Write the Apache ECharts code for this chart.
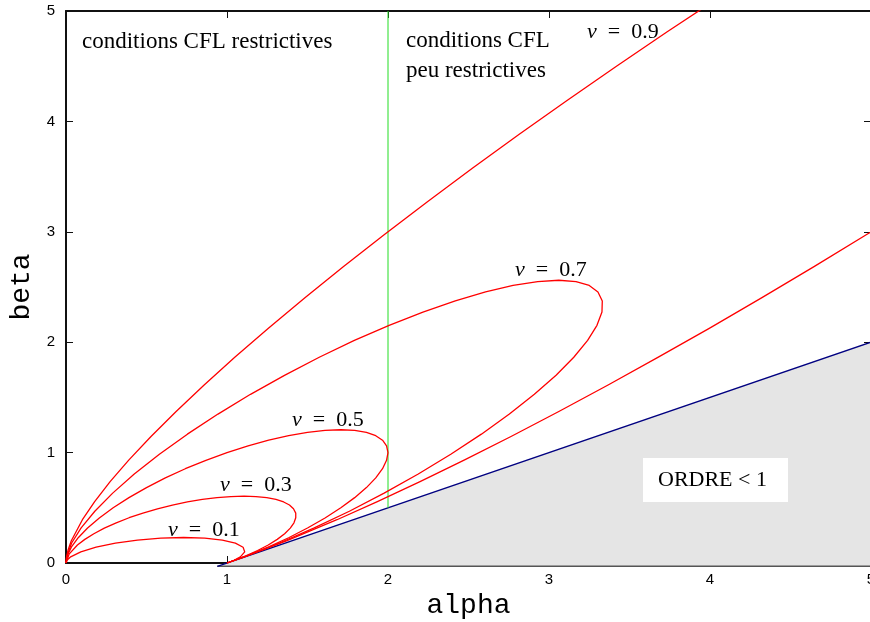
<!DOCTYPE html>
<html><head><meta charset="utf-8">
<script src="https://cdn.jsdelivr.net/npm/echarts@6/dist/echarts.min.js"></script>
<style>html,body{margin:0;padding:0;background:#fff}#c{width:870px;height:622px}</style>
</head><body><div id="c"></div>
<script>
// axis ranges / ticks
const xTicks = [0, 1, 2, 3, 4, 5];
const yTicks = [0, 1, 2, 3, 4, 5];

// iso-nu curves: [alpha, beta]
const curveNu01 = [[0,0],[0.006,0.025],[0.029,0.056],[0.092,0.101],[0.187,0.143],[0.307,0.180],[0.444,0.208],[0.589,0.225],[0.731,0.231],[0.862,0.225],[0.971,0.208],[1.052,0.180],[1.100,0.143],[1.110,0.101],[1.083,0.056],[1.044,0.025],[1,0]];
const curveNu03 = [[0,0],[0.019,0.080],[0.071,0.163],[0.117,0.214],[0.173,0.265],[0.238,0.316],[0.312,0.364],[0.392,0.410],[0.478,0.452],[0.568,0.491],[0.661,0.525],[0.754,0.553],[0.847,0.576],[0.938,0.592],[1.024,0.602],[1.106,0.606],[1.180,0.602],[1.247,0.592],[1.304,0.576],[1.352,0.553],[1.388,0.525],[1.413,0.491],[1.427,0.452],[1.427,0.410],[1.416,0.364],[1.393,0.316],[1.358,0.265],[1.312,0.214],[1.256,0.163],[1.190,0.113],[1.117,0.065],[1,0]];
const curveNu05 = [[0,0],[0.009,0.070],[0.034,0.146],[0.076,0.229],[0.134,0.317],[0.207,0.408],[0.293,0.5],[0.391,0.592],[0.5,0.683],[0.617,0.771],[0.741,0.854],[0.869,0.930],[1,1],[1.131,1.061],[1.259,1.112],[1.383,1.153],[1.5,1.183],[1.609,1.201],[1.707,1.207],[1.793,1.201],[1.866,1.183],[1.924,1.153],[1.966,1.112],[1.991,1.061],[2,1],[1.991,0.930],[1.966,0.854],[1.924,0.771],[1.866,0.683],[1.793,0.592],[1.707,0.5],[1.609,0.408],[1.5,0.317],[1.383,0.229],[1.259,0.146],[1.131,0.070],[1,0]];
const curveNu07 = [[0,0],[0.005,0.060],[0.035,0.181],[0.094,0.318],[0.179,0.469],[0.290,0.633],[0.424,0.806],[0.580,0.985],[0.754,1.167],[0.944,1.349],[1.146,1.528],[1.357,1.700],[1.573,1.864],[1.791,2.016],[2.007,2.153],[2.217,2.273],[2.418,2.374],[2.606,2.455],[2.777,2.514],[2.930,2.549],[3.061,2.561],[3.168,2.549],[3.250,2.514],[3.304,2.455],[3.331,2.374],[3.329,2.273],[3.298,2.153],[3.240,2.016],[3.154,1.864],[3.044,1.700],[2.909,1.528],[2.754,1.349],[2.580,1.167],[2.390,0.985],[2.188,0.806],[1.976,0.633],[1.760,0.469],[1.542,0.318],[1.326,0.181],[1.116,0.060],[1,0]];
const curveNu09Upper = [[0,0],[0.002,0.043],[0.013,0.118],[0.033,0.201],[0.102,0.392],[0.178,0.556],[0.274,0.737],[0.391,0.934],[0.528,1.146],[0.684,1.372],[0.858,1.612],[1.050,1.865],[1.259,2.128],[1.484,2.402],[1.724,2.685],[1.978,2.975],[2.245,3.272],[2.524,3.575],[2.813,3.881],[3.112,4.190],[3.419,4.5],[3.732,4.810],[4.267,5.324]];
const curveNu09Lower = [[1,0],[1.083,0.043],[1.223,0.118],[1.369,0.201],[1.683,0.392],[1.934,0.556],[2.199,0.737],[2.476,0.934],[2.764,1.146],[3.061,1.372],[3.367,1.612],[3.679,1.865],[3.998,2.128],[4.320,2.402],[4.646,2.685],[4.973,2.975],[5.300,3.272]];

// ORDRE < 1 boundary and region
const orderLine = [[0.94,-0.03],[5,2]];
const orderRegionAlpha = [0.94, 5, 5];
const orderRegionBeta = [-0.03, 2, -0.03];

// CFL separation line alpha = 2
const cflLine = [[2,0.5],[2,5]];

const nuLabels = ['0.1','0.3','0.5','0.7','0.9'];

const chart = echarts.init(document.getElementById('c'), null, {renderer:'canvas'});

const axisCommon = {
  type:'value', min:0, max:5, interval:1,
  axisLine:{show:true, onZero:false, lineStyle:{color:'#111', width:2}},
  axisTick:{show:true, inside:true, length:7, lineStyle:{color:'#111', width:1}},
  splitLine:{show:false}
};

function redSeries(data){
  return {type:'line', data:data, showSymbol:false, smooth:false, z:5,
    lineStyle:{color:'#ff0000', width:1.3, join:'round'}, silent:true};
}

const labelFont = '"Liberation Serif", "Times New Roman", serif';

function nuText(txt, left, baseline){
  return {type:'text', left:left, top:baseline-18, z:100,
    style:{text:'{n|ν}  =  ' + txt, font:'22px ' + labelFont, fill:'#000',
      rich:{n:{fontStyle:'italic', fontSize:22, fontFamily:labelFont, fill:'#000'}}}};
}

const option = {
  animation:false,
  backgroundColor:'#fff',
  grid:{left:66, top:11, width:805, height:552, containLabel:false, outerBoundsMode:'none'},
  xAxis:[
    Object.assign({}, axisCommon, {position:'bottom',
      axisLabel:{show:true, margin:9, fontFamily:'"Liberation Sans", Arial, sans-serif', fontSize:15, color:'#000',
        formatter:(v)=> xTicks.includes(v) ? String(v) : ''},
      name:'alpha', nameLocation:'middle', nameGap:27,
      nameTextStyle:{fontFamily:'"Liberation Mono", "Courier New", monospace', fontSize:28, color:'#000'}}),
    Object.assign({}, axisCommon, {position:'top', axisLabel:{show:false}})
  ],
  yAxis:[
    Object.assign({}, axisCommon, {position:'left',
      axisLabel:{show:true, margin:11, fontFamily:'"Liberation Sans", Arial, sans-serif', fontSize:15, color:'#000',
        formatter:(v)=> yTicks.includes(v) ? String(v) : ''},
      name:'beta', nameLocation:'middle', nameGap:26, nameRotate:90,
      nameTextStyle:{fontFamily:'"Liberation Mono", "Courier New", monospace', fontSize:28, color:'#000'}}),
    Object.assign({}, axisCommon, {position:'right', axisLabel:{show:false}})
  ],
  series:[
    {type:'custom', z:3, clip:false, silent:true, data:[[0,0]],
      renderItem:function(params, api){
        const pts = orderRegionAlpha.map((a,i)=>api.coord([a, orderRegionBeta[i]]));
        return {type:'group', children:[
          {type:'polygon', shape:{points:pts}, style:{fill:'#e5e5e5', stroke:null}},
          {type:'line', shape:{x1:pts[0][0], y1:pts[0][1], x2:pts[2][0], y2:pts[2][1]}, style:{stroke:'#555', lineWidth:1.5}}
        ]};
      }},
    {type:'line', data:orderLine, showSymbol:false, clip:false, z:4, silent:true,
      lineStyle:{color:'#000080', width:1.3}},
    {type:'line', data:cflLine, showSymbol:false, z:4, silent:true,
      lineStyle:{color:'#22dd22', width:1}},
    redSeries(curveNu01),
    redSeries(curveNu03),
    redSeries(curveNu05),
    redSeries(curveNu07),
    redSeries(curveNu09Upper),
    redSeries(curveNu09Lower)
  ],
  graphic:[
    {type:'text', left:82, top:30, z:100, style:{text:'conditions CFL restrictives', font:'23px ' + labelFont, fill:'#000'}},
    {type:'text', left:406, top:29, z:100, style:{text:'conditions CFL', font:'23px ' + labelFont, fill:'#000'}},
    {type:'text', left:406, top:59, z:100, style:{text:'peu restrictives', font:'23px ' + labelFont, fill:'#000'}},
    nuText(nuLabels[4], 587, 39),
    nuText(nuLabels[3], 515, 277),
    nuText(nuLabels[2], 292, 427),
    nuText(nuLabels[1], 220, 492),
    nuText(nuLabels[0], 168, 537),
    {type:'rect', left:643, top:458, z:99, shape:{width:145, height:44}, style:{fill:'#fff'}},
    {type:'text', left:658, top:469, z:100, style:{text:'ORDRE < 1', font:'22px ' + labelFont, fill:'#000'}}
  ]
};
chart.setOption(option);
</script>
</body></html>
